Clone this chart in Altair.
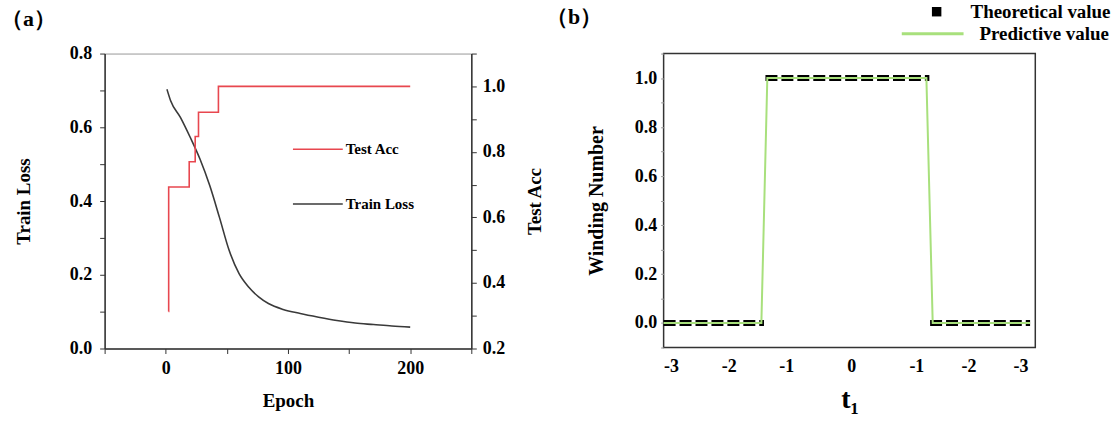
import altair as alt
import pandas as pd

# ---------------- panel (a) data ----------------
loss_epoch = [1, 4, 12, 20, 28, 36, 44, 52, 60, 68, 76, 84, 96, 110, 125, 140, 155, 170, 185, 200]
train_loss = [0.703, 0.672, 0.627, 0.573, 0.514, 0.442, 0.355, 0.265, 0.203, 0.166,
              0.140, 0.122, 0.106, 0.095, 0.085, 0.076, 0.069, 0.065, 0.061, 0.058]
acc_epoch = [2.3, 2.4, 19.2, 24.1, 26.8, 43.1, 200]
test_acc = [0.313, 0.693, 0.770, 0.847, 0.921, 1.0, 1.0]

epoch_ticks = [-50, 0, 50, 100, 150, 200, 250]
loss_ticks = [round(i * 0.1, 1) for i in range(0, 9)]
acc_ticks = [round(i * 0.1, 1) for i in range(2, 12)]

# ---------------- panel (b) data ----------------
path_ticks = [2, 17.5, 33, 50.5, 68, 82, 96]
path_tick_labels = ["-3", "-2", "-1", "0", "-1", "-2", "-3"]
theory_seg = [1, 1, 2, 2, 3, 3]
theory_pos = [0, 27.0, 27.4, 71.5, 71.7, 98.6]
theory_val = [0, 0, 1, 1, 0, 0]
pred_pos = [0, 26.3, 27.9, 70.7, 72.4, 98.6]
pred_val = [0, 0, 1, 1, 0, 0]
wn_ticks = [round(i * 0.1, 1) for i in range(-1, 12)]

FONT = "Liberation Serif"
RED = "#e8474f"
GREEN = "#a8e07c"
DARK = "#3a3a3a"


def one_row():
    return pd.DataFrame({"k": [0]})


# ================= panel (a) =================
W_A, H_A = 368, 296
loss_df = pd.DataFrame({"epoch": loss_epoch, "loss": train_loss})
acc_df = pd.DataFrame({"epoch": acc_epoch, "acc": test_acc})

x_a = alt.X(
    "epoch:Q",
    scale=alt.Scale(domain=[-50, 250], nice=False, zero=False),
    axis=alt.Axis(
        title="Epoch", values=epoch_ticks,
        labelExpr="(datum.value % 100 == 0 && datum.value >= 0) ? datum.label : ''",
        tickSize=5, labelPadding=6, titlePadding=14, labelOverlap=False, labelFlush=False,
        grid=False, domainColor="#333", tickColor="#333", domainWidth=1.5,
    ),
)

loss_line = alt.Chart(loss_df).mark_line(color=DARK, strokeWidth=1.6, interpolate="monotone").encode(
    x=x_a,
    y=alt.Y(
        "loss:Q",
        scale=alt.Scale(domain=[0, 0.8], nice=False, zero=False),
        axis=alt.Axis(
            title="Train Loss", orient="left", values=loss_ticks,
            labelExpr="round(datum.value * 10) % 2 == 0 ? format(datum.value, '.1f') : ''",
            tickSize=5, labelPadding=8, titlePadding=36, grid=False, labelOverlap=False,
            labelFlush=False, domainColor="#333", tickColor="#333", domainWidth=1.5,
        ),
    ),
)

acc_line = alt.Chart(acc_df).mark_line(color=RED, strokeWidth=1.6, interpolate="step-after").encode(
    x=x_a,
    y=alt.Y(
        "acc:Q",
        scale=alt.Scale(domain=[0.2, 1.1], nice=False, zero=False),
        axis=alt.Axis(
            title="Test Acc", orient="right", values=acc_ticks,
            labelExpr="(round(datum.value * 10) % 2 == 0 && datum.value <= 1.0) ? format(datum.value, '.1f') : ''",
            tickSize=5, labelPadding=6, titlePadding=21, titleAngle=270, titleBaseline="top",
            grid=False, labelOverlap=False, labelFlush=False,
            domainColor="#333", tickColor="#333", domainWidth=1.5,
        ),
    ),
)


def legend_a(label, color, ypix):
    rule = alt.Chart(one_row()).mark_rule(color=color, strokeWidth=1.6).encode(
        x=alt.value(189), x2=alt.value(239), y=alt.value(ypix)
    )
    txt = alt.Chart(one_row()).mark_text(
        align="left", baseline="middle", font=FONT, fontWeight="bold", fontSize=15, color="black"
    ).encode(x=alt.value(242), y=alt.value(ypix), text=alt.value(label))
    return rule + txt


label_a = alt.Chart(one_row()).mark_text(
    align="left", baseline="middle", fontWeight="bold", fontSize=22, color="black", font=FONT
).encode(x=alt.value(-104), y=alt.value(-35), text=alt.value("（a）"))

panel_a = alt.layer(
    loss_line, acc_line,
    legend_a("Test Acc", RED, 96), legend_a("Train Loss", DARK, 151),
    label_a,
).resolve_scale(y="independent").properties(
    width=W_A, height=H_A, view=alt.ViewBackground(stroke="#999", strokeWidth=1)
)

# ================= panel (b) =================
W_B, H_B = 373, 295
theory_df = pd.DataFrame({"seg": theory_seg, "pos": theory_pos, "wn": theory_val})
pred_df = pd.DataFrame({"pos": pred_pos, "wn": pred_val})

tick_js = "[" + ",".join(str(v) for v in path_ticks) + "]"
lab_js = "[" + ",".join("'" + s + "'" for s in path_tick_labels) + "]"

x_b = alt.X(
    "pos:Q",
    scale=alt.Scale(domain=[0, 100], nice=False, zero=False),
    axis=alt.Axis(
        title="t₁", values=path_ticks,
        labelExpr=lab_js + "[indexof(" + tick_js + ", datum.value)]",
        tickSize=0, labelPadding=10, titlePadding=10, titleFontSize=28,
        labelOverlap=False, labelFlush=False, grid=False, domain=False,
    ),
)
y_b = alt.Y(
    "wn:Q",
    scale=alt.Scale(domain=[-0.1, 1.1], nice=False, zero=False),
    axis=alt.Axis(
        title="Winding Number", values=wn_ticks,
        labelExpr="(round(datum.value * 10) % 2 == 0 && datum.value >= 0 && datum.value <= 1.0) ? format(datum.value, '.1f') : ''",
        tickSize=3, labelPadding=4, titlePadding=28, titleFontSize=20,
        grid=False, labelOverlap=False, labelFlush=False, domain=False, tickColor="#999",
    ),
)

theory_line = alt.Chart(theory_df).mark_line(
    color="black", strokeWidth=6, strokeDash=[12, 4], strokeCap="butt"
).encode(x=x_b, y=y_b, detail="seg:N")

pred_line = alt.Chart(pred_df).mark_line(color=GREEN, strokeWidth=2).encode(x=x_b, y=y_b)

leg_sq = alt.Chart(one_row()).mark_square(color="black", size=90, opacity=1).encode(
    x=alt.value(274), y=alt.value(-42)
)
leg_sq_txt = alt.Chart(one_row()).mark_text(
    align="left", baseline="middle", font=FONT, fontWeight="bold", fontSize=19, color="black"
).encode(x=alt.value(308), y=alt.value(-42), text=alt.value("Theoretical value"))
leg_ln = alt.Chart(one_row()).mark_rule(color=GREEN, strokeWidth=3).encode(
    x=alt.value(239), x2=alt.value(301), y=alt.value(-20)
)
leg_ln_txt = alt.Chart(one_row()).mark_text(
    align="left", baseline="middle", font=FONT, fontWeight="bold", fontSize=19, color="black"
).encode(x=alt.value(317), y=alt.value(-20), text=alt.value("Predictive value"))

label_b = alt.Chart(one_row()).mark_text(
    align="left", baseline="middle", fontWeight="bold", fontSize=22, color="black", font=FONT
).encode(x=alt.value(-118), y=alt.value(-37), text=alt.value("（b）"))

panel_b = alt.layer(
    theory_line, pred_line, leg_sq, leg_sq_txt, leg_ln, leg_ln_txt, label_b
).properties(
    width=W_B, height=H_B, view=alt.ViewBackground(stroke="#333", strokeWidth=1.5)
)

chart = alt.hconcat(panel_a, panel_b, spacing=0).properties(
    padding={"left": 0, "top": 1, "right": 5, "bottom": 5},
    background="white",
).configure_axis(
    labelFont=FONT, labelFontWeight="bold", labelFontSize=18, labelColor="black",
    titleFont=FONT, titleFontWeight="bold", titleFontSize=19, titleColor="black",
)

chart.save("out.html", embed_options={"renderer": "svg", "actions": False})
